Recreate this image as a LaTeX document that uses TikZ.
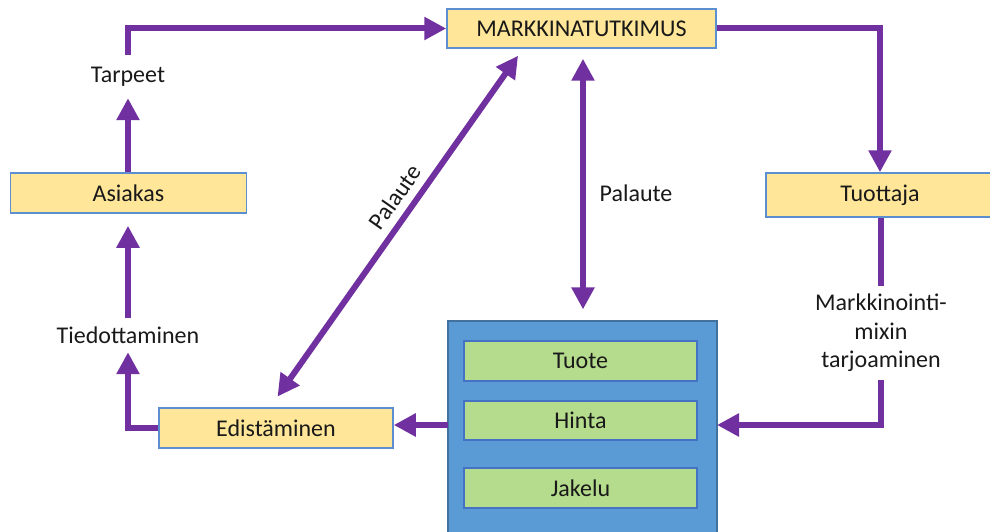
\documentclass[tikz,border=0pt]{standalone}
\usepackage{fontspec}
\setmainfont{Carlito}
\usetikzlibrary{arrows.meta,calc}
\definecolor{ppl}{HTML}{7030A0}
\definecolor{ylw}{HTML}{FFE699}
\definecolor{ybd}{HTML}{5B8FD0}
\definecolor{blu}{HTML}{5B9BD5}
\definecolor{bbd}{HTML}{41719C}
\definecolor{grn}{HTML}{B5DB8C}
\definecolor{gbd}{HTML}{4472C4}
\tikzset{
  every node/.style={font=\fontsize{24}{28.6}\selectfont, text=black!90},
  ybox/.style={draw=ybd, line width=1.5pt, fill=ylw, inner sep=0pt},
  gbox/.style={draw=gbd, line width=1.5pt, fill=grn, inner sep=0pt, minimum width=233pt, minimum height=40pt},
  lbl/.style={inner sep=0pt, align=center},
  conn/.style={draw=ppl, line width=6pt},
  arr/.style={conn, -{Triangle[width=22pt,length=22pt]}},
  darr/.style={conn, {Triangle[width=22pt,length=22pt]}-{Triangle[width=22pt,length=22pt]}},
}
\begin{document}
\begin{tikzpicture}[x=1pt,y=-1pt]
\useasboundingbox (0,0) rectangle (990,532);
% boxes
\node[ybox, minimum width=269pt, minimum height=39pt] (mk) at (581.5,28.5) {MARKKINATUTKIMUS};
\node[ybox, minimum width=236pt, minimum height=40pt] (asi) at (128.5,193) {Asiakas};
\node[ybox, minimum width=228pt, minimum height=44pt] (tuo) at (880,195) {Tuottaja};
\node[ybox, minimum width=234pt, minimum height=40pt] (edi) at (276,428) {Edistäminen};
\node[draw=bbd, line width=1.2pt, fill=blu, minimum width=269pt, minimum height=214pt, inner sep=0pt] (blue) at (582.5,428) {};
\node[gbox] (tuote) at (580.5,361) {Tuote};
\node[gbox, minimum height=39pt] (hinta) at (580.5,420.5) {Hinta};
\node[gbox] (jakelu) at (580.5,488) {Jakelu};
% labels
\node[lbl, minimum height=43pt] (tarp) at (128,76.5) {Tarpeet};
\node[lbl, minimum height=34pt] (tied) at (128,335) {Tiedottaminen};
\node[lbl, minimum height=94pt] (mix) at (881,333) {Markkinointi-\\mixin\\tarjoaminen};
\node[lbl] (pal1) at (636,193) {Palaute};
\node[lbl, rotate=55] (pal2) at (395,197) {Palaute};
\coordinate (rin) at (717,425);
\coordinate (lin) at (448,425);
% connectors
\draw[arr] (asi.north -| tarp) -- (tarp.south);
\draw[arr] (tarp.north) |- (mk.west);
\draw[arr] (mk.east) -| (tuo.north);
\draw[conn] (tuo.south -| mix) -- (mix.north);
\draw[arr] (mix.south) |- (rin);
\draw[arr] (lin) -- (edi.east |- lin);
\draw[arr] (edi.west) -| (tied.south);
\draw[arr, shorten >=12pt] (tied.north) -- (asi.south -| tied);
\draw[darr, shorten <=13pt, shorten >=8.5pt] ($(edi.north)+(-6,0)$) -- ($(mk.south)+(-58.5,0)$);
\draw[darr, shorten <=10pt, shorten >=11pt] ($(mk.south)+(1.5,0)$) -- ($(blue.north)+(0.5,0)$);
\end{tikzpicture}
\end{document}
